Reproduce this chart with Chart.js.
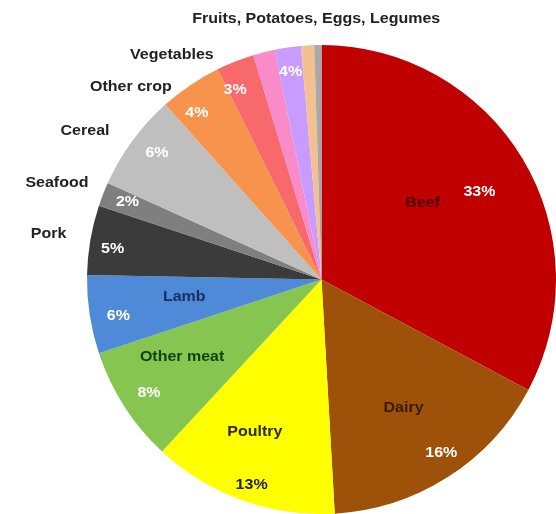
<!DOCTYPE html>
<html>
<head>
<meta charset="utf-8">
<script src="https://cdn.jsdelivr.net/npm/chart.js@4.4.3/dist/chart.umd.min.js"></script>
<style>
    html, body { margin: 0; padding: 0; background: #fff; }
    #wrap { width: 556px; height: 514px; position: relative; }
</style>
</head>
<body>
<div id="wrap"><canvas id="c"></canvas></div>
<script>
// slices, clockwise from 12 o'clock
const categories = ['Beef', 'Dairy', 'Poultry', 'Other meat', 'Lamb', 'Pork', 'Seafood',
    'Cereal', 'Other crop', 'Vegetables', 'Fruits', 'Potatoes', 'Eggs', 'Legumes'];
const shares = [32.8, 16.3, 12.8, 8.0, 5.4, 4.8, 1.65, 6.65, 4.3, 2.6, 1.5, 1.8, 0.9, 0.5];
const colors = ['#c00000', '#9e5209', '#ffff00', '#86c54f', '#4f8ad9', '#3b3b3b', '#7f7f7f',
    '#bfbfbf', '#f7934c', '#f8696b', '#f98bcb', '#c79bff', '#f5c08f', '#a9a9a9'];

// percent labels shown on the chart (first..last slice they cover)
const pctLabels = [
    { text: '33%', from: 0, to: 0 },
    { text: '16%', from: 1, to: 1 },
    { text: '13%', from: 2, to: 2 },
    { text: '8%', from: 3, to: 3 },
    { text: '6%', from: 4, to: 4 },
    { text: '5%', from: 5, to: 5 },
    { text: '2%', from: 6, to: 6 },
    { text: '6%', from: 7, to: 7 },
    { text: '4%', from: 8, to: 8 },
    { text: '3%', from: 9, to: 9 },
    { text: '4%', from: 10, to: 13 }
];
const nameLabels = [
    { text: 'Beef', from: 0, to: 0 },
    { text: 'Dairy', from: 1, to: 1 },
    { text: 'Poultry', from: 2, to: 2 },
    { text: 'Other meat', from: 3, to: 3 },
    { text: 'Lamb', from: 4, to: 4 },
    { text: 'Pork', from: 5, to: 5 },
    { text: 'Seafood', from: 6, to: 6 },
    { text: 'Cereal', from: 7, to: 7 },
    { text: 'Other crop', from: 8, to: 8 },
    { text: 'Vegetables', from: 9, to: 9 },
    { text: 'Fruits, Potatoes, Eggs, Legumes', from: 10, to: 13 }
];

// placement: radius factor and angle shift (deg) from the slice middle
const pctStyle = [
    { r: 0.77, da: 2, color: '#fff' }, { r: 0.90, da: -2, color: '#fff' },
    { r: 0.925, da: -1, color: '#222' }, { r: 0.88, da: -0.5, color: '#fff' },
    { r: 0.88, da: -1.5, color: '#fff' }, { r: 0.90, da: -1.5, color: '#fff' },
    { r: 0.89, da: 0.3, color: '#fff' }, { r: 0.885, da: 1.3, color: '#fff' },
    { r: 0.887, da: -2.8, color: '#fff' }, { r: 0.888, da: -2.9, color: '#fff' },
    { r: 0.895, da: 0, color: '#fff' }
];
const nameStyle = [
    { r: 0.54, da: -6, color: '#4a0000' }, { r: 0.65, da: 0, color: '#3a1c00' },
    { r: 0.71, da: 3.8, color: '#2b2b00' }, { r: 0.68, da: 3.7, color: '#173f0c' },
    { r: 0.59, da: 1.4, color: '#1a2e5c' }, { r: 1.18, da: -0.2, color: '#222' },
    { r: 1.20, da: -1.4, color: '#222' }, { r: 1.19, da: -4.2, color: '#222' },
    { r: 1.155, da: -10.7, color: '#222' }, { r: 1.15, da: -12.1, color: '#222' },
    { r: 1.11, da: 7.3, color: '#222' }
];

const sliceLabels = {
    id: 'sliceLabels',
    afterDatasetsDraw(chart) {
        const ctx = chart.ctx;
        const arcs = chart.getDatasetMeta(0).data;
        const draw = (list, styles) => {
            list.forEach((lab, i) => {
                const a0 = arcs[lab.from], a1 = arcs[lab.to];
                const st = styles[i];
                const mid = (a0.startAngle + a1.endAngle) / 2 + st.da * Math.PI / 180;
                const R = a0.outerRadius * st.r;
                const x = a0.x + R * Math.cos(mid);
                const y = a0.y + R * Math.sin(mid);
                ctx.save();
                ctx.translate(x, y);
                ctx.scale(1, 0.88);
                ctx.font = 'bold 16px "Liberation Sans", Arial, sans-serif';
                ctx.fillStyle = st.color;
                ctx.textAlign = 'center';
                ctx.textBaseline = 'middle';
                ctx.fillText(lab.text, 0, 0);
                ctx.restore();
            });
        };
        draw(pctLabels, pctStyle);
        draw(nameLabels, nameStyle);
    }
};

new Chart(document.getElementById('c'), {
    type: 'pie',
    data: {
        labels: categories,
        datasets: [{
            data: shares,
            backgroundColor: colors,
            borderWidth: 0
        }]
    },
    options: {
        responsive: true,
        maintainAspectRatio: false,
        animation: false,
        layout: { padding: { left: 87, top: 45, right: 0, bottom: 0 } },
        plugins: {
            legend: { display: false },
            tooltip: { enabled: false }
        }
    },
    plugins: [sliceLabels]
});
</script>
</body>
</html>
